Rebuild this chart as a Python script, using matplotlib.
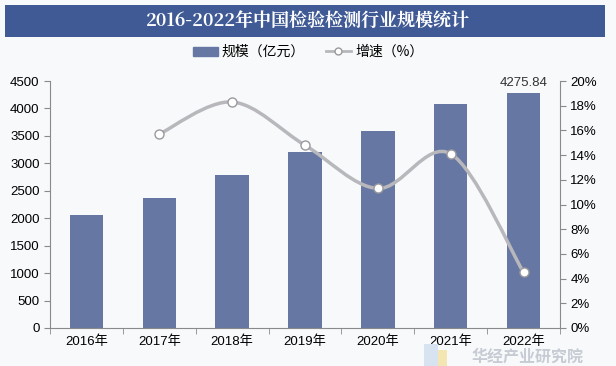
import matplotlib.pyplot as plt
import numpy as np
from matplotlib.path import Path
from matplotlib.patches import PathPatch, Rectangle
from matplotlib.lines import Line2D
from matplotlib.ticker import FuncFormatter

plt.rcParams['font.family'] = ['Liberation Sans', 'Noto Sans CJK SC']

years = ['2016年', '2017年', '2018年', '2019年', '2020年', '2021年', '2022年']
scale = [2050, 2360, 2790, 3210, 3590, 4080, 4275.84]
growth_years = [1, 2, 3, 4, 5, 6]
growth = [15.7, 18.3, 14.8, 11.3, 14.1, 4.5]

bar_color = '#6677a3'
line_color = '#b8b8bc'
axis_color = '#8a8a8a'

fig = plt.figure(figsize=(6.16, 3.66), dpi=100)
fig.patch.set_facecolor('#f8f9fb')

# title band
fig.patches.append(Rectangle((5 / 616, 1 - 37 / 366), 600 / 616, 32 / 366,
                             transform=fig.transFigure, facecolor='#3f5a94',
                             edgecolor='none', zorder=0))
fig.text(0.5, 1 - 21 / 366, '2016-2022年中国检验检测行业规模统计', color='white',
         fontsize=13, fontweight='bold', ha='center', va='center',
         family=['Noto Serif CJK SC', 'Noto Sans CJK SC'])

# watermark (drawn first so it sits under the chart)
fig.patches.append(Rectangle((424 / 616, 1 - 366 / 366), 14 / 616, 22 / 366,
                             transform=fig.transFigure, facecolor='#d8e3f2',
                             edgecolor='none'))
fig.patches.append(Rectangle((438 / 616, 1 - 366 / 366), 9 / 616, 16 / 366,
                             transform=fig.transFigure, facecolor='#f3e6b3',
                             edgecolor='none'))
fig.text(528 / 616, 1 - 357 / 366, '华经产业研究院', color='#c6cbd4', fontsize=11.5,
         fontweight='bold', ha='center', va='center', family=['Noto Sans CJK SC'],
         zorder=0)

ax = fig.add_axes([50 / 616, 1 - 328 / 366, 510 / 616, 247 / 366])
ax.patch.set_alpha(0)
x = np.arange(len(years))
ax.bar(x, scale, width=0.46, color=bar_color, zorder=2)
ax.set_xlim(-0.5, len(years) - 0.5)
ax.set_ylim(0, 4500)
ax.set_yticks(np.arange(0, 4501, 500))
ax.set_xticks(x)
ax.set_xticklabels(years, fontsize=9.5)
ax.set_xticks(np.arange(-0.5, len(years)), minor=True)
ax.tick_params(axis='x', which='major', length=0, pad=5)
ax.tick_params(axis='x', which='minor', length=4, color=axis_color)
ax.tick_params(axis='y', length=4, color=axis_color, labelsize=9.5)
for s in ['top', 'right']:
    ax.spines[s].set_visible(False)
for s in ['left', 'bottom']:
    ax.spines[s].set_color(axis_color)
ax.text(x[-1], scale[-1] + 80, '4275.84', ha='center', va='bottom', fontsize=9.5,
        color='#333333')

ax2 = ax.twinx()
ax2.set_ylim(0, 20)
ax2.set_yticks(np.arange(0, 21, 2))
ax2.yaxis.set_major_formatter(FuncFormatter(lambda v, p: f'{v:.0f}%'))
ax2.tick_params(axis='y', length=4, color=axis_color, labelsize=9.5)
for s in ['top', 'left', 'bottom']:
    ax2.spines[s].set_visible(False)
ax2.spines['right'].set_color(axis_color)

# smooth line through growth points (Catmull-Rom as cubic Bezier)
pts = np.column_stack([growth_years, growth]).astype(float)
ext = np.vstack([pts[0], pts, pts[-1]])
verts = [tuple(pts[0])]
codes = [Path.MOVETO]
for i in range(len(pts) - 1):
    p0, p1, p2, p3 = ext[i], ext[i + 1], ext[i + 2], ext[i + 3]
    c1 = p1 + (p2 - p0) / 6
    c2 = p2 - (p3 - p1) / 6
    verts += [tuple(c1), tuple(c2), tuple(p2)]
    codes += [Path.CURVE4] * 3
ax2.add_patch(PathPatch(Path(verts, codes), facecolor='none', edgecolor=line_color,
                        lw=2.5, zorder=3))
ax2.plot(growth_years, growth, ls='none', marker='o', ms=6.5, mfc='white',
         mec='#9a9a9e', mew=1, zorder=4)

# legend
handles = [Rectangle((0, 0), 1, 1, color=bar_color),
           Line2D([], [], color=line_color, lw=2, marker='o', mfc='white',
                  mec='#9a9a9e', ms=5)]
fig.legend(handles, ['规模（亿元）', '增速（%）'], loc='center',
           bbox_to_anchor=(0.5, 1 - 52 / 366), ncol=2, frameon=False,
           handlelength=1.8, handleheight=0.6, columnspacing=1.5,
           handletextpad=0.3, prop={'family': ['Noto Sans CJK SC'], 'size': 10})

fig.savefig('out.png', dpi=100, facecolor=fig.get_facecolor())
